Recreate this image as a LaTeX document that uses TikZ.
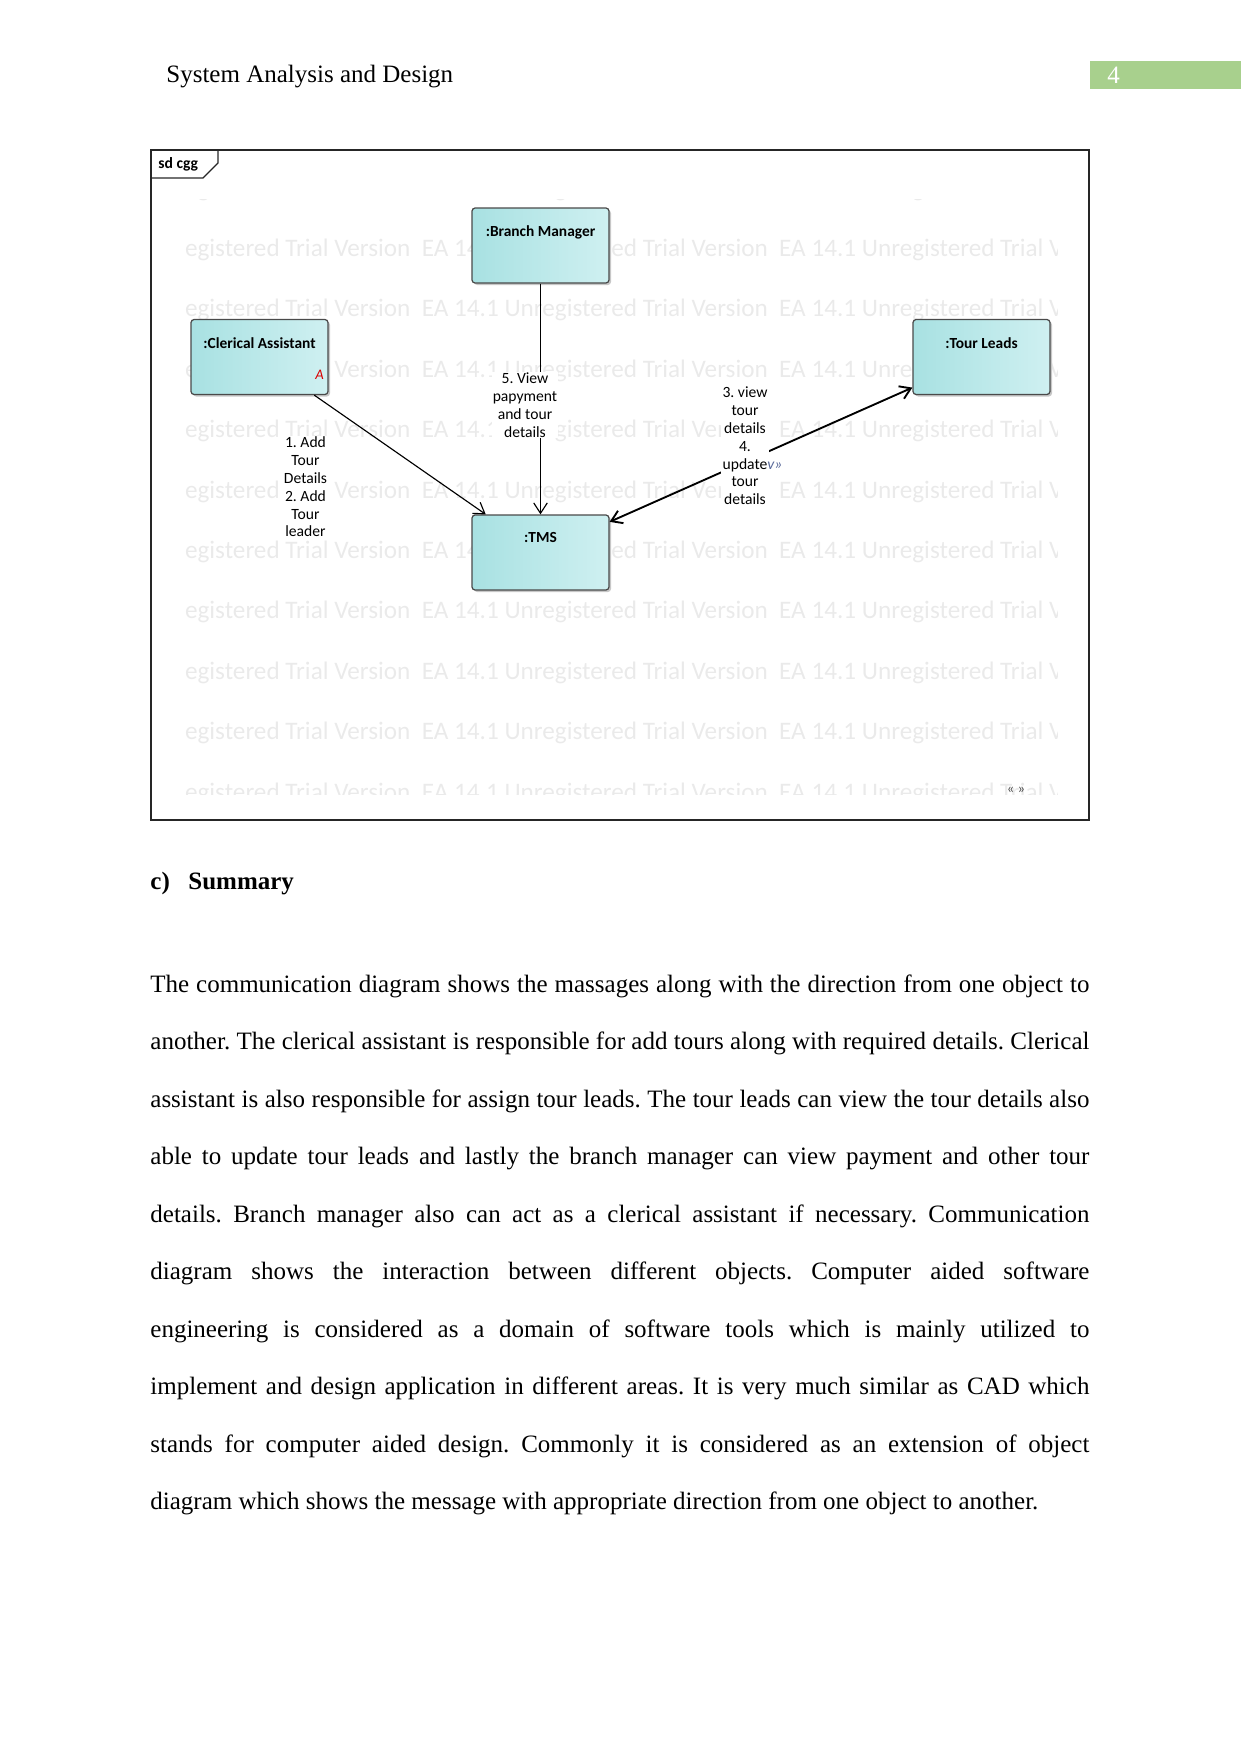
\documentclass[tikz,border=0pt]{standalone}
\usepackage{fontspec}
\setmainfont{Liberation Serif}
\newfontfamily\calib{Carlito}
\usetikzlibrary{arrows.meta,calc}
\definecolor{wm}{HTML}{EAEAEA}
\definecolor{boxL}{HTML}{A8E1E2}
\definecolor{boxR}{HTML}{CFF0F1}
\definecolor{boxD}{HTML}{4A4A4A}
\definecolor{pgreen}{HTML}{A8D08D}
\definecolor{glyph}{HTML}{5A6A9A}
\frenchspacing
\begin{document}
\begin{tikzpicture}[x=0.48pt,y=-0.48pt,
 objbox/.style={draw=boxD, line width=0.6pt, rounded corners=1.5pt, left color=boxL, right color=boxR, minimum width=65.76pt, minimum height=36pt, inner sep=0pt},
 shadowbox/.style={fill=black!22, rounded corners=1.5pt, minimum width=65.76pt, minimum height=36pt, inner sep=0pt},
 objname/.style={font=\calib\fontsize{7.4}{9}\selectfont\bfseries, inner sep=0pt},
 msg/.style={font=\calib\fontsize{7.5}{8.55}\selectfont, align=center, fill=white, inner sep=0.6pt},
 link/.style={draw=black, line width=0.55pt},
 tip/.style={-{Straight Barb[length=5pt,width=6.5pt]}},
 wmtext/.style={font=\calib\fontsize{12.1}{14}\selectfont, text=wm, anchor=base west, inner sep=0pt},
 body/.style={font=\fontsize{12}{13.8}\selectfont, anchor=base west, inner sep=0pt}
]
\useasboundingbox (0,0) rectangle (1241,1754);

% header
\node[body] (hdr) at (166,82.5) {System Analysis and Design};
\fill[pgreen] (1090,61) rectangle (1241,89);
\node[body, text=white] (pg) at (1107,83) {4};

% frame
\draw[line width=0.6pt, draw=black!85] (151,150) rectangle (1089,820);
\draw[line width=0.6pt, draw=black!85] (151,178) -- (203,178) -- (218,163) -- (218,150);
\node[font=\calib\bfseries\fontsize{7.5}{9}\selectfont, anchor=base west, inner sep=0pt] (sd) at (158,168) {sd cgg};

% watermark
\begin{scope}
\clip (184,199) rectangle (1057,794);
\foreach \k in {0,...,10} {
  \node[wmtext] at (184.6,{196.1+\k*60.4}) {egistered Trial Version\ \ EA 14.1 Unregistered Trial Version\ \ EA 14.1 Unregistered Trial Version};
}
\end{scope}
\node[font=\calib\fontsize{7}{7}\selectfont, text=black!70, inner sep=0pt] (gl) at (1016,790) {« »};

% shadows
\node[shadowbox] at (542.5,247.5) {};
\node[shadowbox] at (261.5,359) {};
\node[shadowbox] at (983.5,359) {};
\node[shadowbox] at (542.5,554.5) {};

% boxes
\node[objbox] (bm) at (540.5,245.5) {};
\node[objbox] (ca) at (259.5,357) {};
\node[objbox] (tl) at (981.5,357) {};
\node[objbox] (tms) at (540.5,552.5) {};
\node[objname] (bmn) at ($(bm.north)+(0,25.5)$) {:Branch Manager};
\node[objname] (can) at ($(ca.north)+(0,24)$) {:Clerical Assistant};
\node[objname] (tln) at ($(tl.north)+(0,24)$) {:Tour Leads};
\node[objname] (tmsn) at ($(tms.north)+(0,23)$) {:TMS};
\node[font=\calib\fontsize{7}{8}\selectfont\itshape, text=red!85!black, inner sep=0pt] (ra) at ($(ca.south east)+(-9,-20)$) {A};

% connectors
\draw[link, tip] (ca) -- (tms);
\draw[link, tip] (bm) -- (tms);
\draw[link, line width=0.9pt, {Straight Barb[length=5pt,width=6.5pt]}-{Straight Barb[length=5pt,width=6.5pt]}] (tms) -- (tl);

% message labels
\node[msg] (m1) at (305.5,487) {1. Add\\Tour\\Details\\2. Add\\Tour\\leader};
\node[msg] (m5) at (525,405) {5. View\\papyment\\and tour\\details};
\node[msg] (m3) at (745,446) {3. view\\tour\\details\\4.\\update\rlap{\color{glyph}\fontsize{7.5}{7.5}\selectfont\itshape v»}\\tour\\details};

% summary
\node[body, font=\bfseries\fontsize{12}{13.8}\selectfont] (sc) at (150,889) {c)};
\node[body, font=\bfseries\fontsize{12}{13.8}\selectfont] (st) at (188,889) {Summary};

\node[body] (l1) at (150,992) {\makebox[450.72pt][s]{The communication diagram shows the massages along with the direction from one object to}};
\node[body] (l2) at (150,1049.5) {\makebox[450.72pt][s]{another. The clerical assistant is responsible for add tours along with required details. Clerical}};
\node[body] (l3) at (150,1107) {\makebox[450.72pt][s]{assistant is also responsible for assign tour leads. The tour leads can view the tour details also}};
\node[body] (l4) at (150,1164.5) {\makebox[450.72pt][s]{able to update tour leads and lastly the branch manager can view payment and other tour}};
\node[body] (l5) at (150,1222) {\makebox[450.72pt][s]{details. Branch manager also can act as a clerical assistant if necessary. Communication}};
\node[body] (l6) at (150,1279.5) {\makebox[450.72pt][s]{diagram shows the interaction between different objects. Computer aided software}};
\node[body] (l7) at (150,1337) {\makebox[450.72pt][s]{engineering is considered as a domain of software tools which is mainly utilized to}};
\node[body] (l8) at (150,1394.5) {\makebox[450.72pt][s]{implement and design application in different areas. It is very much similar as CAD which}};
\node[body] (l9) at (150,1452) {\makebox[450.72pt][s]{stands for computer aided design. Commonly it is considered as an extension of object}};
\node[body] (l10) at (150,1509.5) {diagram which shows the message with appropriate direction from one object to another.};
\end{tikzpicture}
\end{document}
